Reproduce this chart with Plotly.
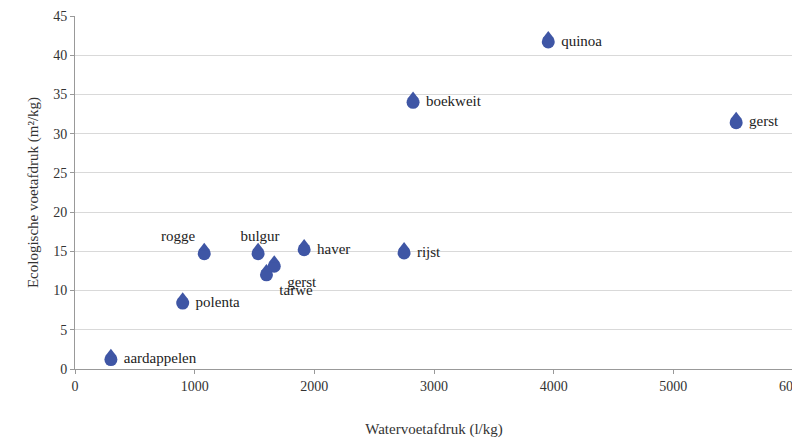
import plotly.graph_objects as go

labels = ["aardappelen", "polenta", "rogge", "bulgur", "tarwe", "gerst", "haver", "rijst", "boekweit", "quinoa", "gerst"]
water = [300, 900, 1080, 1530, 1600, 1665, 1915, 2750, 2825, 3955, 5525]
eco = [1.2, 8.4, 14.7, 14.7, 12.0, 13.1, 15.2, 14.8, 34.0, 41.7, 31.4]
positions = ["middle right", "middle right", "top left", "top center", "bottom right",
             "bottom right", "middle right", "middle right", "middle right", "middle right", "middle right"]

font = "Liberation Serif"
blue = "#3f56a5"

fig = go.Figure()
# waterdruppel: cirkel + driehoekje erboven
fig.add_trace(go.Scatter(x=water, y=eco, mode="markers+text",
                         marker=dict(symbol="circle", size=13, color=blue, line=dict(width=0)),
                         text=[" " + t for t in labels],
                         textposition=positions, textfont=dict(family=font, size=15, color="#222"),
                         hoverinfo="skip", showlegend=False))
fig.add_trace(go.Scatter(x=water, y=[v + 0.75 for v in eco], mode="markers",
                         marker=dict(symbol="triangle-up", size=10, color=blue, line=dict(width=0)),
                         hoverinfo="skip", showlegend=False))

fig.update_layout(
    width=800, height=438, plot_bgcolor="white", paper_bgcolor="white",
    margin=dict(l=67, r=15, t=8, b=77, autoexpand=False),
    font=dict(family=font, size=14, color="#333"),
    xaxis=dict(range=[0, 6000], dtick=1000, showgrid=False, showline=True, linecolor="#999",
               ticks="outside", ticklen=4, tickcolor="#999", zeroline=False, automargin=False,
               title=dict(text="Watervoetafdruk (l/kg)", font=dict(size=15), standoff=30)),
    yaxis=dict(range=[0, 45], dtick=5, showgrid=True, gridcolor="#d9d9d9", showline=True,
               linecolor="#999", ticks="outside", ticklen=4, tickcolor="#999", zeroline=False,
               automargin=False,
               title=dict(text="Ecologische voetafdruk (m²/kg)", font=dict(size=15), standoff=10)),
)
fig.add_shape(type="line", xref="x", yref="paper", x0=6000, x1=6000, y0=0, y1=1,
              line=dict(color="#999", width=1))
fig.write_html("out.html")
